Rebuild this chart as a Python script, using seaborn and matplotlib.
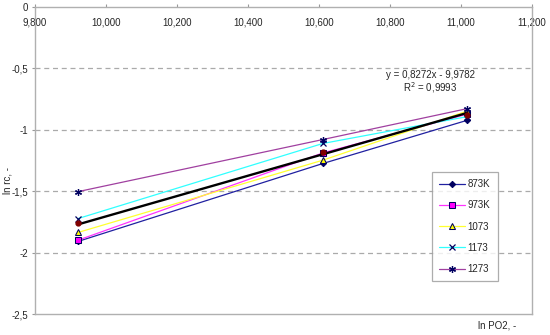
import numpy as np
import pandas as pd
import matplotlib
matplotlib.use("Agg")
import matplotlib.pyplot as plt
from matplotlib.ticker import FuncFormatter, MultipleLocator
import seaborn as sns

# ---- data ----
ln_po2 = [9.921, 10.611, 11.017]
s873 = [-1.91, -1.276, -0.925]
s973 = [-1.90, -1.19, -0.875]
s1073 = [-1.837, -1.249, -0.85]
s1173 = [-1.724, -1.113, -0.895]
s1273 = [-1.505, -1.081, -0.83]
avg = [-1.762, -1.181, -0.878]
trend_slope = 0.8272
trend_intercept = -9.9782
r2 = 0.9993
series_names = ["873K", "973K", "1073", "1173", "1273"]

sns.set_style("white")
plt.rcParams['font.family'] = ['Liberation Sans', 'DejaVu Sans']

fig = plt.figure(figsize=(5.5, 3.35), dpi=100)
ax = fig.add_axes([35/550, 1-314/335, (532-35)/550, (314-6.6)/335])

styles = [
    dict(color="#2020a0", marker="D", mfc="#000060", mec="#000060", ms=3.2),
    dict(color="#ff33ff", marker="s", mfc="#ff00ff", mec="#000060", ms=4.2),
    dict(color="#ffff30", marker="^", mfc="#ffff00", mec="#000060", ms=4.5),
    dict(color="#30ffff", marker="x", mfc="none", mec="#000060", ms=4.5, mew=0.9),
    dict(color="#a040a0", marker=(6, 2, 0), mfc="none", mec="#000060", ms=5, mew=0.9),
]
all_series = [s873, s973, s1073, s1173, s1273]

for name, vals, st in zip(series_names, all_series, styles):
    sns.lineplot(x=ln_po2, y=vals, ax=ax, label=name, lw=0.9, sort=False,
                 estimator=None, **st)

# average series (dark red circles) with linear trendline
xt = np.array([ln_po2[0], ln_po2[-1]])
sns.lineplot(x=xt, y=trend_slope * xt + trend_intercept, ax=ax, color="black",
             lw=1.7, estimator=None, legend=False, zorder=3)
ax.plot(ln_po2, avg, ls="none", marker="o", ms=3.5, mfc="#800000",
        mec="#800000", zorder=4)

ax.set_xlim(9.8, 11.2)
ax.set_ylim(-2.5, 0)
ax.xaxis.set_major_locator(MultipleLocator(0.2))
ax.yaxis.set_major_locator(MultipleLocator(0.5))
ax.xaxis.set_major_formatter(FuncFormatter(lambda v, p: f"{v:,.3f}".replace(".", ",")))

def yfmt(v, p):
    if abs(v) < 1e-9:
        return "0"
    s = f"{v:g}"
    return s.replace(".", ",")
ax.yaxis.set_major_formatter(FuncFormatter(yfmt))

ax.xaxis.set_ticks_position("top")
ax.tick_params(axis="x", which="both", top=True, bottom=False, labeltop=True,
               labelbottom=False, length=2, direction="out", pad=-17,
               labelsize=7, color="#999999")
ax.tick_params(axis="y", length=2, direction="out", pad=3, labelsize=7,
               left=True, color="#999999")

for y in [-0.5, -1, -1.5, -2]:
    ax.axhline(y, color="#aaaaaa", lw=0.9, ls=(0, (4, 3)), zorder=0)

for sp in ax.spines.values():
    sp.set_color("#b0b0b0")
    sp.set_linewidth(1.0)

ax.set_xlabel("")
ax.set_ylabel("")
fig.text(7/550, 1-180/335, "ln rc, -", rotation=90, ha="center", va="center", fontsize=7)
fig.text(497/550, 1-326/335, "ln PO2, -", ha="center", va="center", fontsize=7)

xe = 9.8 + (430 - 35) / 497 * 1.4
ax.text(xe, -(75.7 - 6.6) / 123.4, f"y = {trend_slope:.4f}x - {abs(trend_intercept):.4f}".replace(".", ","),
        ha="center", va="center", fontsize=7)
ax.text(xe, -(87.7 - 6.6) / 123.4, f"R$^2$ = {r2:.4f}".replace(".", ","),
        ha="center", va="center", fontsize=7)

leg = ax.legend(loc="upper left", bbox_to_anchor=((432-35)/497, 1-(172-6.6)/307.4),
                borderaxespad=0, fontsize=7, frameon=True, fancybox=False,
                edgecolor="#999999", labelspacing=1.15, handlelength=2.6,
                handletextpad=0.3, borderpad=0.75)
leg.get_frame().set_linewidth(0.9)

fig.savefig("out.png", dpi=100)
